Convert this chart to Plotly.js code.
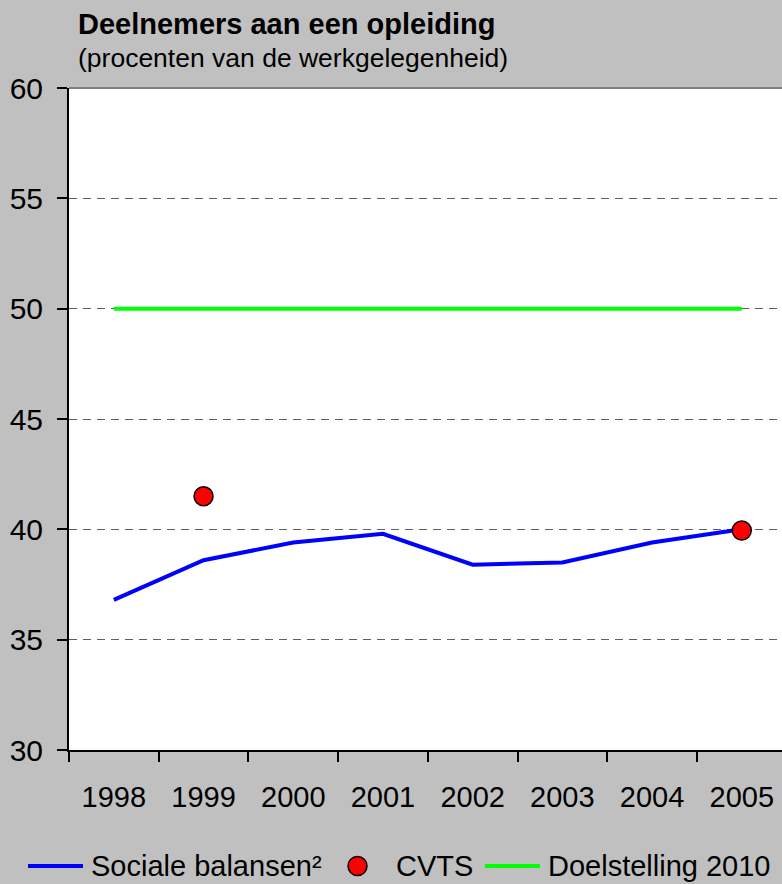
<!DOCTYPE html>
<html>
<head>
<meta charset="utf-8">
<script src="https://cdn.plot.ly/plotly-3.0.1.min.js"></script>
<style>html,body{margin:0;padding:0;background:#c0c0c0;}#chart{width:782px;height:884px;}</style>
</head>
<body>
<div id="chart"></div>
<script>
const years = ['1998','1999','2000','2001','2002','2003','2004','2005'];
const socialeBalansen = [36.8, 38.6, 39.4, 39.8, 38.4, 38.5, 39.4, 40.0];
const cvtsYears = ['1999','2005'];
const cvts = [41.5, 39.95];
const doelYears = ['1998','2005'];
const doelstelling = [50, 50];
const yTicks = [30, 35, 40, 45, 50, 55, 60];
const seriesNames = ['Sociale balansen²', 'CVTS', 'Doelstelling 2010'];

const FONT = 'Arial, "Liberation Sans", sans-serif';

const traces = [
  {x: doelYears, y: doelstelling, type: 'scatter', mode: 'lines', name: seriesNames[2],
   line: {color: '#00ff00', width: 4}, showlegend: false, hoverinfo: 'skip'},
  {x: years, y: socialeBalansen, type: 'scatter', mode: 'lines', name: seriesNames[0],
   line: {color: '#0000ff', width: 4}, showlegend: false},
  {x: cvtsYears, y: cvts, type: 'scatter', mode: 'markers', name: seriesNames[1],
   marker: {color: '#ff0000', size: 19, line: {color: '#000', width: 1.5}}, showlegend: false}
];

// legend geometry (paper coords; plot spans x 69..782, y 88..750 px)
const L = 69, W = 713, T = 88, H = 662;
const px = v => (v - L) / W;
const py = v => (T + H - v) / H;
const legY = 866;

const layout = {
  width: 782, height: 884,
  paper_bgcolor: '#c0c0c0', plot_bgcolor: '#ffffff',
  margin: {l: 69, r: 0, t: 88, b: 134},
  font: {family: FONT, color: '#000'},
  xaxis: {
    type: 'category', categoryorder: 'array', categoryarray: years,
    range: [-0.5, -0.5 + W / 89.7],
    tickson: 'boundaries', ticks: 'outside', ticklen: 10, tickwidth: 2, tickcolor: '#000',
    showline: true, linecolor: '#000', linewidth: 2,
    showgrid: false, zeroline: false,
    tickfont: {size: 29, family: FONT}, ticklabelstandoff: 20
  },
  yaxis: {
    range: [30, 60], tickvals: yTicks, ticktext: yTicks.map(String),
    ticks: 'outside', ticklen: 10, tickwidth: 2, tickcolor: '#000',
    showline: true, linecolor: '#000', linewidth: 2,
    showgrid: true, gridcolor: '#606060', gridwidth: 1, griddash: '8px,6px',
    zeroline: false,
    tickfont: {size: 30, family: FONT}, ticklabelstandoff: 8
  },
  shapes: [
    {type: 'line', xref: 'paper', yref: 'paper', x0: 0, x1: 1, y0: 1, y1: 1,
     line: {color: '#808080', width: 2}},
    {type: 'line', xref: 'paper', yref: 'paper', x0: px(28), x1: px(83), y0: py(legY), y1: py(legY),
     line: {color: '#0000ff', width: 4}},
    {type: 'circle', xref: 'paper', yref: 'paper', x0: px(348), x1: px(367), y0: py(legY - 9.5), y1: py(legY + 9.5),
     fillcolor: '#ff0000', line: {color: '#000', width: 1.5}},
    {type: 'line', xref: 'paper', yref: 'paper', x0: px(485), x1: px(540), y0: py(legY), y1: py(legY),
     line: {color: '#00ff00', width: 4}}
  ],
  annotations: [
    {xref: 'paper', yref: 'paper', x: px(76), y: py(24), xanchor: 'left', yanchor: 'middle',
     text: '<b>Deelnemers aan een opleiding</b>', showarrow: false, font: {size: 29, family: FONT}},
    {xref: 'paper', yref: 'paper', x: px(76), y: py(58), xanchor: 'left', yanchor: 'middle',
     text: '(procenten van de werkgelegenheid)', showarrow: false, font: {size: 26.5, family: FONT}},
    {xref: 'paper', yref: 'paper', x: px(89), y: py(legY), xanchor: 'left', yanchor: 'middle',
     text: seriesNames[0], showarrow: false, font: {size: 29, family: FONT}},
    {xref: 'paper', yref: 'paper', x: px(394), y: py(legY), xanchor: 'left', yanchor: 'middle',
     text: seriesNames[1], showarrow: false, font: {size: 29, family: FONT}},
    {xref: 'paper', yref: 'paper', x: px(546), y: py(legY), xanchor: 'left', yanchor: 'middle',
     text: seriesNames[2], showarrow: false, font: {size: 29, family: FONT}}
  ],
  showlegend: false
};

Plotly.newPlot('chart', traces, layout, {displayModeBar: false, staticPlot: true});
</script>
</body>
</html>
